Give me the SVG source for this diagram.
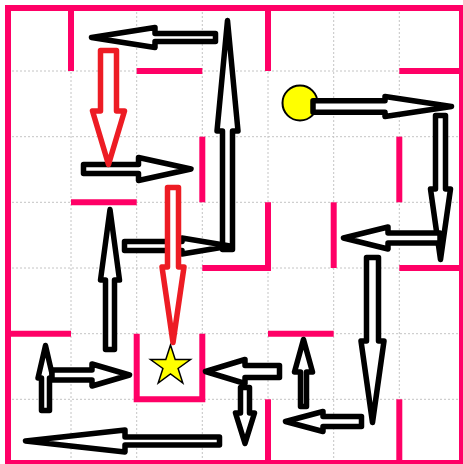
<svg xmlns="http://www.w3.org/2000/svg" width="463" height="464" viewBox="0 0 463 464">
<style>
.grid line{stroke:#c4c4c4;stroke-width:1;stroke-dasharray:2,2}
.wall{fill:none;stroke:#ff0066;stroke-width:6;stroke-linecap:butt;stroke-linejoin:miter}
.arr{fill:#fff;stroke:#000;stroke-width:5.5;stroke-linejoin:round}
.red{fill:#fff;stroke:#ed1c24;stroke-width:5.5;stroke-linejoin:round}
</style>
<rect width="463" height="464" fill="#fff"/>
<g class="grid" id="grid">
<line x1="71" y1="8" x2="71" y2="462"/>
<line x1="136.7" y1="8" x2="136.7" y2="462"/>
<line x1="202.3" y1="8" x2="202.3" y2="462"/>
<line x1="268" y1="8" x2="268" y2="462"/>
<line x1="333.7" y1="8" x2="333.7" y2="462"/>
<line x1="399.3" y1="8" x2="399.3" y2="462"/>
<line x1="8" y1="71" x2="462" y2="71"/>
<line x1="8" y1="136.7" x2="462" y2="136.7"/>
<line x1="8" y1="202.3" x2="462" y2="202.3"/>
<line x1="8" y1="268" x2="462" y2="268"/>
<line x1="8" y1="333.7" x2="462" y2="333.7"/>
<line x1="8" y1="399.3" x2="462" y2="399.3"/>
</g>
<g id="walls">
<rect class="wall" x="8" y="8" width="454" height="455"/>
<path class="wall" d="M71,8 V71"/>
<path class="wall" d="M136.7,71 H202.3"/>
<path class="wall" d="M202.3,136.7 V202.3"/>
<path class="wall" d="M71,202.3 H136.7"/>
<path class="wall" d="M268,8 V71"/>
<path class="wall" d="M399.3,71 H462"/>
<path class="wall" d="M399.3,136.7 V202.3"/>
<path class="wall" d="M268,202.3 V268 H202.3"/>
<path class="wall" d="M333.7,202.3 V268"/>
<path class="wall" d="M399.3,268 H462"/>
<path class="wall" d="M8,333.7 H71"/>
<path class="wall" d="M136.7,333.7 V399.3 H202.3 V333.7"/>
<path class="wall" d="M268,333.7 H333.7"/>
<path class="wall" d="M268,399.3 V463"/>
<path class="wall" d="M399.3,399.3 V463"/>
</g>
<g id="start">
<circle cx="300" cy="103" r="17.5" fill="#ffff00" stroke="#000" stroke-width="2"/>
</g>
<g id="goal">
<polygon points="170.5,345 175.2,359.5 190.5,359.5 178.1,368.5 182.8,383 170.5,374 158.2,383 162.9,368.5 150.5,359.5 165.8,359.5" fill="#ffff00" stroke="#000" stroke-width="1.5" stroke-linejoin="miter"/>
</g>
<g id="connectors">
<polygon class="arr" points="215.5,33.5 155,33.5 155,27.5 91.5,37.5 155,47.5 155,41.5 215.5,41.5"/>
<polygon class="arr" points="222.5,249.5 222.5,131 217,131 227.5,20.5 238,131 232.5,131 232.5,249.5"/>
<polygon class="arr" points="83.5,164.5 138.5,164.5 138.5,157.5 191,169 138.5,180.5 138.5,173.5 83.5,173.5"/>
<polygon class="arr" points="105.5,349.5 105.5,280 100.5,280 110,209.5 119.5,280 114.5,280 114.5,349.5"/>
<polygon class="arr" points="124.5,241.5 182,241.5 182,238 230,246 182,254 182,250.5 124.5,250.5"/>
<polygon class="arr" points="313,100.7 385,100.7 385,96.5 451.5,106.5 385,116.5 385,112.3 313,112.3"/>
<polygon class="arr" points="435.5,115.5 445.5,115.5 445.5,189 450.5,189 440.5,259.5 430.5,189 435.5,189"/>
<polygon class="arr" points="440,233 388,233 388,227 343.5,238 388,249 388,243 440,243"/>
<polygon class="arr" points="366.5,257.5 378.5,257.5 378.5,341 384,341 372.5,422.5 361,341 366.5,341"/>
<polygon class="arr" points="361.5,416.5 323,416.5 323,411.5 285.5,421.5 323,431.5 323,426.5 361.5,426.5"/>
<polygon class="arr" points="300.5,406.5 300.5,372 294.5,372 303.5,339.5 312.5,372 306.5,372 306.5,406.5"/>
<polygon class="arr" points="279.5,365.5 245,365.5 245,359.5 205.5,371.5 245,383.5 245,377.5 279.5,377.5"/>
<polygon class="arr" points="240.5,387.5 249.5,387.5 249.5,413 254.5,413 245,443.5 235.5,413 240.5,413"/>
<polygon class="arr" points="219.5,437 125,437 125,430 25.5,441 125,452 125,445 219.5,445"/>
<polygon class="arr" points="41.5,410.5 41.5,378 38,378 45.5,345.5 53,378 49.5,378 49.5,410.5"/>
<polygon class="arr" points="52,370 92,370 92,364 129.5,375 92,386 92,380 52,380"/>
<polygon class="red" points="100.5,50.5 116.5,50.5 116.5,111 124.5,111 108.5,164.5 92.5,111 100.5,111"/>
<polygon class="red" points="167.5,187.5 178.5,187.5 178.5,267 184,267 173,342.5 162,267 167.5,267"/>
</g>
</svg>
